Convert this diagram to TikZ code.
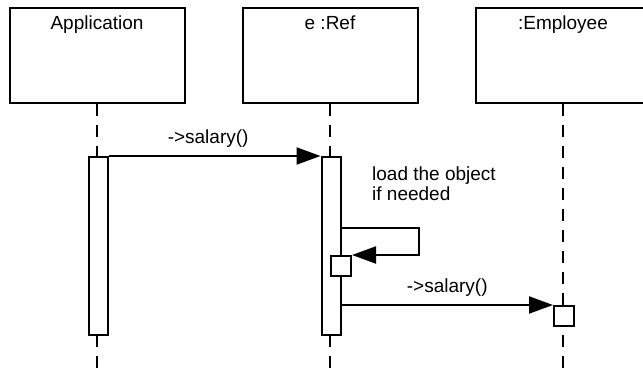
\documentclass[tikz,border=0pt]{standalone}
\usepackage{fontspec}
\setmainfont{Liberation Sans}
\usetikzlibrary{arrows.meta,positioning}

\begin{document}
\begin{tikzpicture}[
      x=1pt,y=-1pt,
      every node/.style={on grid},
      object/.style={draw,line width=2pt,minimum width=175pt,minimum height=95pt},
      objname/.style={anchor=north,inner sep=0pt,yshift=-9pt,font=\fontsize{19}{22}\selectfont},
      lifeline/.style={line width=2pt,dash pattern=on 12pt off 9pt},
      activation/.style={draw,fill=white,line width=2pt,minimum width=19pt,inner sep=0pt},
      call/.style={->,line width=2pt},
      msg/.style={inner sep=0pt,font=\fontsize{19}{20}\selectfont},
      >={Triangle[length=24pt,width=17pt]}
    ]
    \useasboundingbox (0,0) rectangle (643,372);

    % the objects
    \node[object,label={[objname]north:Application}] (app) at (97,55.5) {};
    \node[object,right=233pt of app,label={[objname]north:{e :Ref}}] (ref) {};
    \node[object,right=233pt of ref,label={[objname]north:{:Employee}}] (emp) {};

    % lifelines
    \coordinate (bottom) at (0,372);
    \draw[lifeline] (app.south) -- (app.south |- bottom);
    \draw[lifeline] (ref.south) -- (ref.south |- bottom);
    \draw[lifeline] (emp.south) -- (emp.south |- bottom);

    % activations
    \node[activation,minimum height=178pt] (appbar) at (98,246) {};
    \node[activation,minimum height=178pt] (refbar) at (331,246) {};
    \node[activation,minimum width=20pt,minimum height=20pt] (selfbox) at (341,266) {};
    \node[activation,minimum width=20pt,minimum height=20pt] (empbox) at (564,316) {};

    % the messages
    \draw[call] (appbar.north east) -- node[msg,above=8pt,pos=.47] {->salary()} (refbar.north west);
    \coordinate (loop) at (0,228);
    \draw[call] (refbar.east |- loop) -- ++(77,0) |- (selfbox.north east);
    \node[msg,anchor=base west,align=left] (note) at (372,200) {load the object\\if needed};
    \draw[call] (refbar.east |- empbox.north) -- node[msg,above=8pt] {->salary()} (empbox.north west);
\end{tikzpicture}
\end{document}
